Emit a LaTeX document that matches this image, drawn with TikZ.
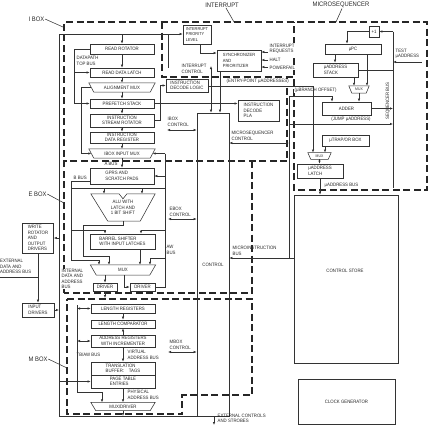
\documentclass[tikz,border=0pt]{standalone}
\usepackage{fontspec}
\setmainfont[FakeStretch=0.9]{Liberation Sans}
\usetikzlibrary{arrows.meta,calc}
\begin{document}
\begin{tikzpicture}[x=1pt,y=-1pt,
  every node/.style={font=\fontsize{4.8}{5.4}\selectfont, inner sep=0.5pt, text=black!85},
  bx/.style={draw=black!80, line width=0.6pt, align=center},
  tx/.style={align=left, anchor=west},
  wt/.style={fill=white},
  big/.style={font=\fontsize{6.5}{7}\selectfont},
  ln/.style={draw=black!80, line width=0.55pt},
  arr/.style={ln, -{Latex[length=3pt,width=2.4pt]}},
  darr/.style={ln, {Latex[length=3pt,width=2.4pt]}-{Latex[length=3pt,width=2.4pt]}},
  dsh/.style={draw=black!85, line width=1.1pt, dash pattern=on 7pt off 3.5pt},
]
\useasboundingbox (0,0) rectangle (432,426);

% ---------- dashed boundaries ----------
\draw[dsh] (64,293) -- (64,22) -- (427,22) -- (427,190) -- (294,190) -- (294,22);
\draw[dsh] (162,22) -- (162,77) -- (294,77);
\draw[dsh] (287,77) -- (287,161) -- (64,161);
\draw[dsh] (252,161) -- (252,293) -- (64,293);
\draw[dsh] (67,299) -- (252,299) -- (252,395) -- (182,395) -- (182,414) -- (67,414) -- cycle;

% ---------- region labels ----------
\node[big, anchor=west] (iboxl) at (28,19) {I BOX};
\node[big, anchor=west] (eboxl) at (28,194) {E BOX};
\node[big, anchor=west] (mboxl) at (28,359) {M BOX};
\node[big] (intl) at (222,5) {INTERRUPT};
\node[big] (msl) at (341,5) {MICROSEQUENCER};
\draw[ln] (iboxl.east) -- (63,27);
\draw[ln] (eboxl.east) -- (64,203);
\draw[ln] (mboxl.east) -- (67,368);
\draw[ln] ([xshift=4]intl.south) -- (234,22);
\draw[ln] ([xshift=1]msl.south) -- (336,22);

% ---------- I BOX ----------
\node[bx, minimum width=64, minimum height=10] (rr) at (122,49) {READ ROTATOR};
\node[bx, minimum width=64, minimum height=9] (rdl) at (122,72.5) {READ DATA LATCH};
\node[minimum width=66, minimum height=9] (amux) at (122,87.5) {ALIGNMENT MUX};
\draw[ln] (amux.north west) -- (amux.north east) -- ([xshift=-5]amux.south east) -- ([xshift=5]amux.south west) -- cycle;
\node[bx, minimum width=64, minimum height=9] (pfs) at (122,103.5) {PREFETCH STACK};
\node[bx, minimum width=64, minimum height=13] (isr) at (122,120.5) {INSTRUCTION\\STREAM ROTATOR};
\node[bx, minimum width=64, minimum height=11] (idr) at (122,137.5) {INSTRUCTION\\DATA REGISTER};
\node[minimum width=66, minimum height=9] (imux) at (122,153.5) {IBOX INPUT MUX};
\draw[ln] (imux.north west) -- (imux.north east) -- ([xshift=-5]imux.south east) -- ([xshift=5]imux.south west) -- cycle;
\node[bx, align=left, minimum width=42, minimum height=13] (idl) at (187,85.5) {INSTRUCTION\\DECODE LOGIC};
\node[bx, align=left, minimum width=41, minimum height=21] (pla) at (258.5,110.5) {INSTRUCTION\\DECODE\\PLA};

% ---------- INTERRUPT ----------
\node[bx, align=left, minimum width=28, minimum height=19, font=\fontsize{4.3}{5.2}\selectfont] (ipl) at (197,34.5) {INTERRUPT\\PRIORITY\\LEVEL};
\node[bx, align=left, minimum width=44, minimum height=21, font=\fontsize{4.5}{5.4}\selectfont] (sync) at (239,60.5) {SYNCHRONIZER\\AND\\PRIORITIZER};
\node[tx, wt] (irq) at (269,48.5) {INTERRUPT\\REQUESTS};
\node[tx, wt] (halt) at (269,60) {HALT};
\node[tx, wt] (pwf) at (269,67.5) {POWERFAIL};

% ---------- CONTROL ----------
\node[bx, minimum width=32, minimum height=303] (ctrl) at (213,264.5) {};
\node (ctrltxt) at (213,265) {CONTROL};

% ---------- E BOX ----------
\node[bx, align=left, minimum width=64, minimum height=16] (gprs) at (122,176) {GPRS AND\\SCRATCH PADS};
\node[minimum width=64, minimum height=27, align=center] (alu) at (123,207.5) {ALU WITH\\LATCH AND\\1 BIT SHIFT};
\draw[ln] (alu.north west) -- ([xshift=-4]alu.north) -- ([yshift=-5]alu.north) -- ([xshift=4]alu.north) -- (alu.north east) -- ([xshift=-15]alu.south east) -- ([xshift=17]alu.south west) -- cycle;
\node[bx, align=left, minimum width=65, minimum height=15] (bsh) at (122.5,241.5) {BARREL SHIFTER\\WITH INPUT LATCHES};
\node[minimum width=65, minimum height=10] (emux) at (123,270) {MUX};
\draw[ln] (emux.north west) -- (emux.north east) -- ([xshift=-6]emux.south east) -- ([xshift=6]emux.south west) -- cycle;
\node[bx, minimum width=24, minimum height=8] (drv1) at (105,287) {DRIVER};
\node[bx, minimum width=25, minimum height=8] (drv2) at (142.5,287) {DRIVER};

% ---------- M BOX ----------
\node[bx, minimum width=64, minimum height=9] (lreg) at (123,308.5) {LENGTH REGISTERS};
\node[bx, minimum width=64, minimum height=8] (lcmp) at (123,324) {LENGTH COMPARATOR};
\node[bx, minimum width=64, minimum height=12] (areg) at (123,341) {ADDRESS REGISTERS\\WITH INCREMENTER};
\node[bx, align=left, minimum width=64, minimum height=13] (tbt) at (123,368.5) {TRANSLATION\\BUFFER:\quad TAGS};
\node[bx, align=left, minimum width=64, minimum height=13] (pte) at (123,381.5) {PAGE TABLE\\ENTRIES};
\node[minimum width=64, minimum height=8] (mdmux) at (123,406.5) {MUX/DRIVER};
\draw[ln] (mdmux.north west) -- (mdmux.north east) -- ([xshift=-5]mdmux.south east) -- ([xshift=5]mdmux.south west) -- cycle;

% ---------- MICROSEQUENCER ----------
\node[bx, minimum width=10, minimum height=11] (inc) at (374,31.5) {+1};
\node[bx, minimum width=56, minimum height=10] (upc) at (353,49) {μPC};
\node[bx, align=left, minimum width=45, minimum height=14] (ustk) at (335.5,70) {μADDRESS\\STACK};
\node[minimum width=20, minimum height=7, font=\fontsize{3.8}{4}\selectfont] (umux) at (359,89.5) {MUX};
\draw[ln] (umux.north west) -- (umux.north east) -- ([xshift=-3]umux.south east) -- ([xshift=3]umux.south west) -- cycle;
\node[bx, minimum width=49, minimum height=13] (add) at (346.5,108.5) {ADDER};
\node[bx, minimum width=47, minimum height=11] (trap) at (345.5,140.5) {μTRAP/OR BOX};
\node[minimum width=23, minimum height=6.5, font=\fontsize{3.8}{4}\selectfont] (lmux) at (319.5,156) {MUX};
\draw[ln] (lmux.north west) -- (lmux.north east) -- ([xshift=-3]lmux.south east) -- ([xshift=3]lmux.south west) -- cycle;
\node[bx, align=left, minimum width=46, minimum height=14] (ulat) at (320,171) {μADDRESS\\LATCH};
\node[bx, minimum width=104, minimum height=168] (cs) at (346,279) {};
\node (cstxt) at (345,271) {CONTROL STORE};
\node[bx, minimum width=97, minimum height=45] (clk) at (346.5,402) {CLOCK GENERATOR};

% ---------- left side ----------
\node[bx, align=left, minimum width=31, minimum height=30] (wrot) at (38,238) {WRITE\\ROTATOR\\AND\\OUTPUT\\DRIVERS};
\node[bx, align=left, minimum width=32, minimum height=14] (indr) at (38,310) {INPUT\\DRIVERS};

% ---------- text labels ----------
\node[tx] (dtb) at (76,61) {DATAPATH\\TOP BUS};
\node (abus) at (111,163.8) {A BUS};
\node[tx] (bbus) at (73,178) {B BUS};
\node[tx] (ibc) at (167,122) {IBOX\\CONTROL};
\node[tx] (ebc) at (169,212) {EBOX\\CONTROL};
\node[tx] (awb) at (166,250) {AW\\BUS};
\node[tx] (mbc) at (169,345) {MBOX\\CONTROL};
\node[tx] (intc) at (181,69) {INTERRUPT\\CONTROL};
\node[tx, wt] (ept) at (226,81.5) {(ENTRY-POINT μADDRESSES)};
\node[tx] (msc) at (231,136) {MICROSEQUENCER\\CONTROL};
\node[tx] (mib) at (232,251) {MICROINSTRUCTION\\BUS};
\node[tx, wt] (bro) at (294,90) {(μBRANCH OFFSET)};
\node (jmp) at (351,119.5) {(JUMP μADDRESS)};
\node[tx] (tst) at (395,54) {TEST\\μADDRESS};
\node[rotate=90] (sqb) at (388,101) {SEQUENCER BUS};
\node[tx] (uab) at (324,185) {μADDRESS BUS};
\node[tx, wt] (ida) at (61,279) {INTERNAL\\DATA AND\\ADDRESS\\BUS};
\node[tx] (eda) at (-0.5,266.5) {EXTERNAL\\DATA AND\\ADDRESS BUS};
\node[tx] (tbaw) at (76,355) {TB/AW BUS};
\node[tx] (vab) at (127,355) {VIRTUAL\\ADDRESS BUS};
\node[tx] (pab) at (127,395) {PHYSICAL\\ADDRESS BUS};
\node[tx] (ecs) at (217,418.5) {EXTERNAL CONTROLS\\AND STROBES};

% ---------- coordinates ----------
\coordinate (busT) at (59,34);
\coordinate (busB) at (59,416);
\coordinate (tb1) at (74,49);
\coordinate (tb2) at (74,103.5);
\coordinate (am1) at (81,87.5);
\coordinate (awT) at (165,153.5);
\coordinate (awB) at (165,287);
\coordinate (c1) at (160,120.5);
\coordinate (ic) at (167,130);
\coordinate (i1) at (200,53);
\coordinate (ic0) at (168,68);
\coordinate (ic1) at (211,66);
\coordinate (ic2) at (220,0);
\coordinate (h1) at (268,52);
\coordinate (h2) at (268,60);
\coordinate (h3) at (268,67);
\coordinate (sbT) at (393,31.5);
\coordinate (sbB) at (393,188);
\coordinate (u1) at (347,31.5);
\coordinate (tstc) at (422,62);
\coordinate (mb) at (289,96);
\coordinate (mb2) at (332,96);
\coordinate (jp) at (289,124);
\coordinate (mi) at (289,258);
\coordinate (mscc) at (289,143);
\coordinate (ep) at (313,86);
\coordinate (t1) at (325,0);
\coordinate (bb1) at (71,181);
\coordinate (bb2) at (71,260);
\coordinate (m1) at (99,260);
\coordinate (al1) at (71,188);
\coordinate (al2) at (165,188);
\coordinate (a3) at (104,188);
\coordinate (a4) at (142,188);
\coordinate (ao) at (83,225);
\coordinate (ao2) at (83,256);
\coordinate (ao3) at (109,256);
\coordinate (bi1) at (71,230);
\coordinate (bi2) at (105,230);
\coordinate (bi3) at (165,230);
\coordinate (bi4) at (141,230);
\coordinate (bo) at (140,0);
\coordinate (aw3) at (165,258);
\coordinate (aw4) at (150,258);
\coordinate (d2) at (124,0);
\coordinate (d1o) at (105,298);
\coordinate (ec) at (168,219);
\coordinate (ext) at (0,277);
\coordinate (tw1) at (77,305);
\coordinate (tw2) at (77,392);
\coordinate (tw3) at (102,392);
\coordinate (mc) at (168,352);
\coordinate (xc) at (214,425);

% ---------- I BOX connectors ----------
\draw[ln] (ctrl.west |- busB) -- (busB) -- (busT);
\draw[arr] (busT) -- (ipl.west |- busT);
\draw[arr] (rr.north |- busT) -- (rr.north);
\draw[arr] (rr) -- (rdl);
\draw[arr] (rdl) -- (amux);
\draw[arr] (amux) -- (pfs);
\draw[arr] (pfs) -- (isr);
\draw[arr] (isr) -- (idr);
\draw[arr] (idr) -- (imux);
\draw[arr] (rr.west) -- (tb1) -- (tb2) -- (pfs.west);
\draw[arr] (rdl.west -| tb1) -- (rdl.west);
\draw[arr] ([xshift=2.5]amux.west) -- (am1) -- (am1 |- imux.west) -- ([xshift=2.5]imux.west);
\draw[ln] (awT) -- (awB) -- (drv2.east);
\draw[arr] (awT) -- ([xshift=-2.5]imux.east);
\draw[arr] (gprs.east -| awT) -- (gprs.east);
\draw[arr] (isr.east) -- (c1) -- (c1 |- idl.west) -- (idl.west);
\draw[arr] (pfs.east) -- (pfs.east -| pla.west);
\draw[darr] (ic) -- (ic -| ctrl.west);
\draw[arr] (imux) -- (gprs);

% ---------- INTERRUPT connectors ----------
\draw[arr] (ipl.south -| i1) -- (i1) -- (i1 -| sync.west);
\draw[arr] (h1) -- (h1 -| sync.east);
\draw[arr] (h2) -- (h2 -| sync.east);
\draw[arr] (h3) -- (h3 -| sync.east);
\draw[ln] (busT -| ic0) -- (ic0);
\draw[darr] (ic1) -- (ic1 |- ctrl.north);
\draw[arr] (sync.south -| ic2) -- (ctrl.north -| ic2);

% ---------- MICROSEQUENCER connectors ----------
\draw[ln] (sbT) -- (sbB);
\draw[arr] (sbT) -- (inc.east);
\draw[arr] (inc.west) -- (u1) -- (u1 |- upc.north);
\draw[arr] (tstc) -- (tstc -| sbT);
\draw[arr] ([xshift=-18]upc.south) -- ([xshift=-18]upc.south |- ustk.north);
\draw[arr] ([xshift=14]upc.south) -- ([xshift=14]upc.south |- umux.north);
\draw[arr] ([xshift=18.5]ustk.south) -- ([xshift=18.5]ustk.south |- umux.north);
\draw[ln] (ustk.east) -- (ustk.east -| sbT);
\draw[arr] (umux.south) -- (umux.south |- add.north);
\draw[arr] (mb) -- (mb2) -- (mb2 |- add.north);
\draw[arr] (add.east) -- (add.east -| sbT);
\draw[arr] (jp) -- (jp -| sbT);
\draw[ln] (mb) -- (mi);
\draw[arr] (mi -| cs.west) -- (mi -| ctrl.east);
\draw[darr] (mscc -| ctrl.east) -- (mscc);
\draw[arr] (idl.east |- ep) -- (ep) -- (ep |- lmux.north);
\draw[arr] (trap.south -| t1) -- (lmux.north -| t1);
\draw[arr] (lmux.south) -- (lmux.south |- ulat.north);
\draw[arr] (ulat.south) -- (ulat.south |- cs.north);

% ---------- E BOX connectors ----------
\draw[arr] (gprs.west |- bb1) -- (bb1) -- (bb2) -- (m1) -- (m1 |- emux.north);
\draw[ln] (al1) -- (al2);
\draw[arr] (a3) -- (a3 |- alu.north);
\draw[arr] (a4) -- (a4 |- alu.north);
\draw[arr] (alu.south) -- (alu.south |- ao) -- (ao) -- (ao2) -- (ao3) -- (ao3 |- emux.north);
\draw[arr] (bi1) -- (bi2) -- (bi2 |- bsh.north);
\draw[arr] (bi3) -- (bi4) -- (bi4 |- bsh.north);
\draw[arr] (bsh.south -| bo) -- (emux.north -| bo);
\draw[arr] (aw3) -- (aw4) -- (aw4 |- emux.north);
\draw[arr] (emux.south -| drv1.north) -- (drv1.north);
\draw[arr] (emux.south -| d2) -- (d2 |- drv2.west) -- (drv2.west);
\draw[arr] (drv1.south) -- (d1o);
\draw[darr] (ec) -- (ec -| ctrl.west);

% ---------- left side ----------
\draw[arr] (wrot.east -| busT) -- (wrot.east);
\draw[ln] (ext) -- (ext -| wrot.south);
\draw[arr] (wrot.south) -- (indr.north);
\draw[arr] (indr.east) -- (indr.east -| busT);

% ---------- M BOX connectors ----------
\draw[arr] (tw1) -- (tw2) -- (tw3) -- (tw3 |- mdmux.north);
\draw[darr] (lreg.west -| tw1) -- (lreg.west);
\draw[darr] (areg.west -| tw1) -- (areg.west);
\draw[arr] (lreg) -- (lcmp);
\draw[arr] (areg) -- (lcmp);
\draw[arr] (areg) -- (tbt);
\draw[arr] (pte.west -| busT) -- (pte.west);
\draw[arr] (pte) -- (mdmux);
\draw[arr] (mdmux.south) -- (mdmux.south |- busB);
\draw[darr] (mc) -- (mc -| ctrl.west);
\draw[arr] (ctrl.south -| xc) -- (xc);
\end{tikzpicture}
\end{document}
